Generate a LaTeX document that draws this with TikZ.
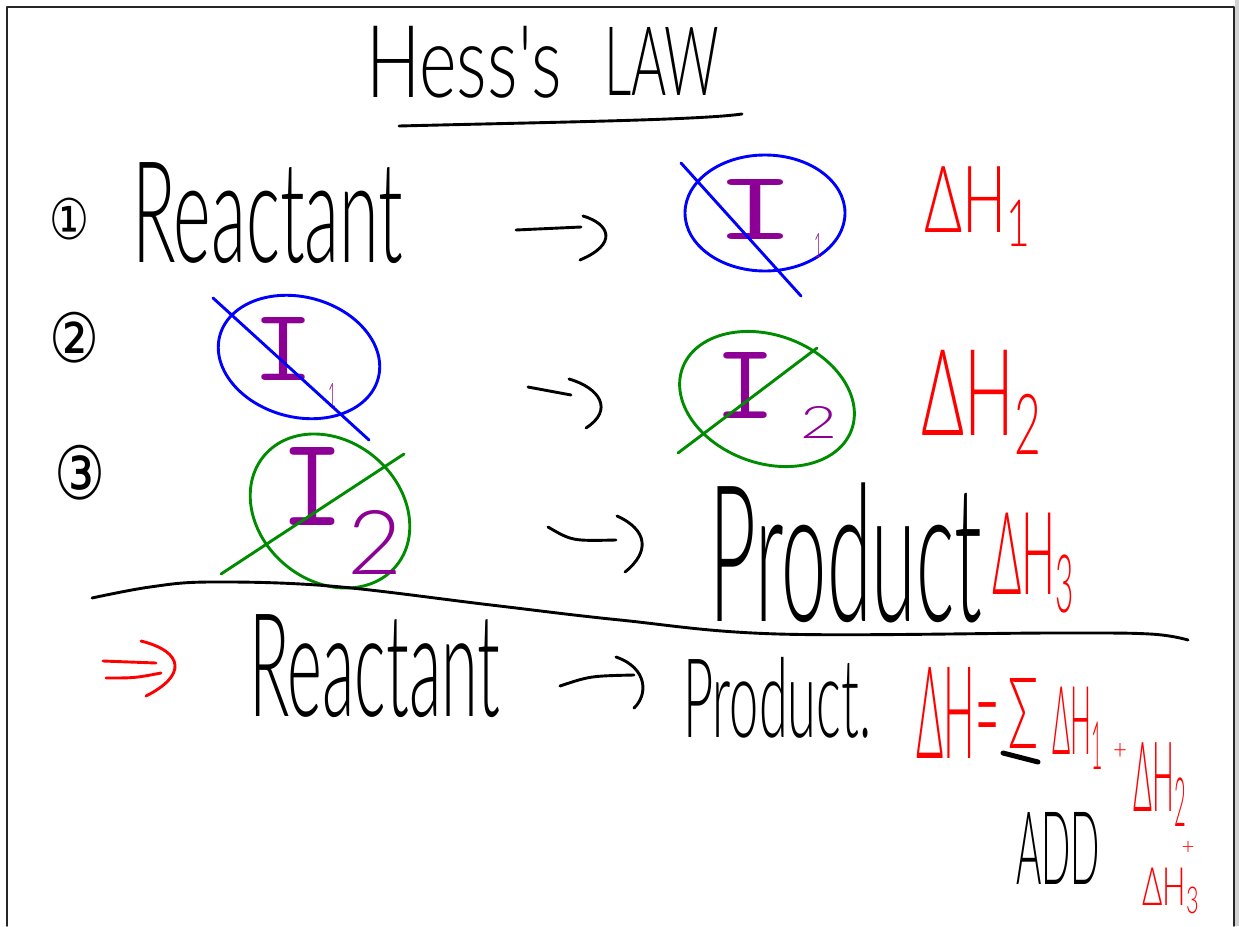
\documentclass[tikz,border=0pt]{standalone}
\usepackage{fontspec}
\usepackage{graphicx}
\IfFontExistsTF{Lato Light}{\newfontfamily\hand{Lato Light}}{\newfontfamily\hand{Lato}}
\newfontfamily\symf{DejaVu Sans}
\newcommand{\hw}[3]{\resizebox*{#1pt}{#2pt}{#3}}
\definecolor{redc}{RGB}{255,0,0}
\definecolor{bluec}{RGB}{0,0,255}
\definecolor{greenc}{RGB}{0,140,0}
\definecolor{purc}{RGB}{140,0,150}
\begin{document}
\begin{tikzpicture}[x=1pt,y=-1pt,line cap=round,line join=round,
  pen/.style={line width=2.9pt},
  ink/.style={pen,black},
  bluepen/.style={pen,bluec},
  greenpen/.style={pen,greenc},
  redpen/.style={pen,redc},
  txt/.style={inner sep=0pt,anchor=north west},
  ctxt/.style={inner sep=0pt,anchor=center}]
\useasboundingbox (0,0) rectangle (1239,926);
\fill[white] (0,0) rectangle (1239,926);
\fill[gray!35] (1235,0) rectangle (1239,926);
% frame
\draw[line width=1.8pt,black!85] (7,926) -- (7,7) -- (1234,7) -- (1234,926);
% title
\node[txt] (t1) at (366,26) {\hw{196}{72}{\hand Hess's}};
\node[txt] (t2) at (604,27) {\hw{115}{68}{\hand LAW}};
\draw[ink] (399,126) .. controls (560,122) and (700,120) .. (742,114);
% row 1
\node[txt] (n1) at (49,198) {\hw{40}{42}{\symf ①}};
\node[txt] (r1) at (132,162) {\hw{271}{101}{\hand Reactant}};
\draw[ink] (516,230) -- (581,227);
\draw[ink] (583,216) .. controls (610,224) and (618,244) .. (580,260);
\draw[bluepen] (765,213) ellipse [x radius=80, y radius=58];
\node[txt,anchor=north,text=purc] (i1) at (755,179) {\hw{80}{60}{\ttfamily I}};
\node[txt,text=purc] (i1s) at (814,233) {\hw{8}{24}{\hand 1}};
\draw[bluepen] (681,163) -- (801,296);
\node[txt,text=redc] (d1) at (924,166) {\hw{109}{80}{\hand ΔH\textsubscript{1}}};
% row 2
\node[txt] (n2) at (49,312) {\hw{50}{51}{\symf ②}};
\draw[bluepen,rotate around={-15:(299,357)}] (299,357) ellipse [x radius=82, y radius=60];
\node[txt,anchor=north,text=purc] (i2) at (283,317) {\hw{62}{63}{\ttfamily I}};
\node[txt,text=purc] (i2s) at (328,383) {\hw{8}{24}{\hand 1}};
\draw[bluepen] (213,298) -- (369,440);
\draw[ink] (528,387) -- (571,395);
\draw[ink] (569,379) .. controls (600,388) and (614,410) .. (586,428);
\draw[greenpen,rotate around={-20:(767,399)}] (767,399) ellipse [x radius=90, y radius=64];
\node[txt,anchor=north,text=purc] (i3) at (745,352) {\hw{62}{66}{\ttfamily I}};
\node[txt,text=purc] (i3s) at (800,406) {\hw{37}{32}{\hand 2}};
\draw[greenpen] (678,453) -- (817,348);
\node[txt,text=redc] (d2) at (921,350) {\hw{123}{104}{\hand ΔH\textsubscript{2}}};
% row 3
\node[txt] (n3) at (54,445) {\hw{51}{55}{\symf ③}};
\draw[greenpen,rotate around={-40:(330,511)}] (330,511) ellipse [x radius=86, y radius=70];
\node[txt,anchor=north,text=purc] (i4) at (312,447) {\hw{64}{78}{\ttfamily I}};
\node[txt,text=purc] (i4s) at (347,510) {\hw{55}{64}{\hand 2}};
\draw[greenpen] (221,574) -- (404,454);
\draw[ink] (548,527) .. controls (572,541) .. (616,540);
\draw[ink] (617,516) .. controls (648,530) and (650,552) .. (625,572);
\node[txt] (p1) at (709,483) {\hw{273}{140}{\hand Product}};
\node[txt,text=redc] (d3) at (992,513) {\hw{84}{100}{\hand ΔH\textsubscript{3}}};
% divider
\draw[ink] plot[smooth,tension=0.6] coordinates {(92,598) (150,587) (210,582) (330,586) (491,605) (620,620) (778,634) (1054,633) (1150,634) (1188,640)};
% row 4
\draw[redpen] (103,661) -- (156,663);
\draw[redpen] (106,678) .. controls (135,678) .. (161,673);
\draw[redpen] (141,641) .. controls (185,652) and (186,676) .. (146,696);
\node[txt] (r2) at (249,614) {\hw{251}{103}{\hand Reactant}};
\draw[ink] (560,686) .. controls (590,676) .. (634,675);
\draw[ink] (616,657) .. controls (648,668) and (648,695) .. (634,708);
\node[txt] (p2) at (683,657) {\hw{188}{81}{\hand Product.}};
\node[txt,text=redc] (s1) at (916,667) {\hw{83}{91}{\hand ΔH=}};
\node[txt,text=redc] (s2) at (1008,678) {\hw{30}{70}{\hand Σ}};
\draw[black,line width=5pt] (1003,753) -- (1038,762);
\node[ctxt,text=redc] (s3) at (1078,728) {\hw{52}{82}{\hand ΔH\textsubscript{1}}};
\node[ctxt,text=redc] (s4) at (1120,751) {\hw{14}{16}{\hand +}};
\node[txt,text=redc] (s5) at (1133,742) {\hw{54}{84}{\hand ΔH\textsubscript{2}}};
\node[ctxt,text=redc] (s6) at (1188,848) {\hw{13}{13}{\hand +}};
\node[txt,text=redc] (s7) at (1142,868) {\hw{58}{46}{\hand ΔH\textsubscript{3}}};
\node[txt] (add) at (1016,812) {\hw{84}{72}{\hand ADD}};
\end{tikzpicture}
\end{document}
